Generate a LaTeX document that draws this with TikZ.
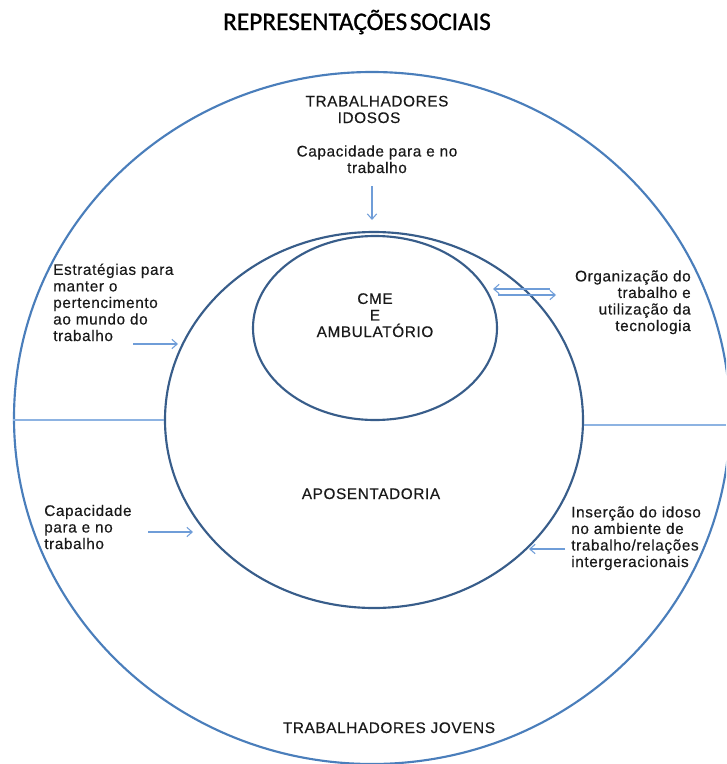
\documentclass[tikz,border=0pt]{standalone}
\usepackage{fontspec}
\setmainfont{Liberation Sans}
\newfontfamily\titlefont[FakeBold=1]{Carlito}
\newfontfamily\labfont[LetterSpace=4,FakeBold=0.4]{Liberation Sans}
\usetikzlibrary{shapes.geometric,arrows.meta}
\definecolor{outerblue}{HTML}{4A7EBB}
\definecolor{darkblue}{HTML}{385D8A}
\definecolor{arrowblue}{HTML}{6F9DD8}
\definecolor{lineblue}{HTML}{8DB3E2}
\tikzset{
  ring/.style={ellipse, draw, line width=1.6pt, inner sep=0pt},
  lab/.style={font=\labfont\fontsize{11.5}{12.4}\selectfont, inner sep=0pt, text=black!90},
  conn/.style={draw=lineblue, line width=0.8pt},
  arr/.style={draw=arrowblue, line width=0.8pt, -{Straight Barb[length=4pt,width=7pt]}}
}
\begin{document}
\begin{tikzpicture}[x=0.75pt,y=-0.75pt]
\useasboundingbox (0,0) rectangle (726,764);
\clip (0,0) rectangle (726,764);

% rings
\node[ring, draw=outerblue, minimum width=537pt, minimum height=519pt] (outer) at (372,418) {};
\node[ring, draw=darkblue, minimum width=313.5pt, minimum height=282pt] (mid) at (374,420) {};
\node[ring, draw=darkblue, minimum width=183pt, minimum height=138pt] (inner) at (375,328) {};

% dividing lines
\coordinate (rend) at (726,425);
\draw[conn] (mid.west) -- (mid.west -| outer.west);
\draw[conn] (mid.east |- rend) -- (rend);

% title
\node[font=\titlefont\fontsize{19}{22}\selectfont, inner sep=0pt, anchor=base] (title) at (357,30) {REPRESENTAÇÕES\hspace{2pt}SOCIAIS};

% texts (base anchor = baseline of the last line)
\node[lab, align=center, anchor=base] (idosos) at (377,123) {TRABALHADORES\\IDOSOS\hspace*{12pt}};
\node[lab, align=center, anchor=base] (captop) at (377,173) {Capacidade para e no\\trabalho};
\node[lab, align=left, anchor=base west] (estr) at (53,341) {Estratégias para\\manter o\\pertencimento\\ao mundo do\\trabalho};
\node[lab, align=center, anchor=base] (cme) at (375,337) {CME\\E\\AMBULATÓRIO};
\node[lab, align=right, anchor=base east] (org) at (691,331) {Organização do\\trabalho e\\utilização da\\tecnologia};
\node[lab, anchor=base] (apos) at (371,499) {APOSENTADORIA};
\node[lab, align=left, anchor=base west] (capleft) at (44,549) {Capacidade\\para e no\\trabalho};
\node[lab, align=left, anchor=base west] (ins) at (571,567) {Inserção do idoso\\no ambiente de\\trabalho/relações\\intergeracionais};
\node[lab, anchor=base] (jovens) at (389,733) {TRABALHADORES JOVENS};

% arrows
\coordinate (a1s) at (372,186); \coordinate (a1e) at (372,220);
\draw[arr] (a1s) -- (a1e);
\coordinate (a2s) at (133,344); \coordinate (a2e) at (178,344);
\draw[arr] (a2s) -- (a2e);
\coordinate (a3s) at (550,289); \coordinate (a3e) at (493,289);
\draw[arr] (a3s) -- (a3e);
\coordinate (a4s) at (498,295); \coordinate (a4e) at (556,295);
\draw[arr] (a4s) -- (a4e);
\coordinate (a5s) at (148,532); \coordinate (a5e) at (193,532);
\draw[arr] (a5s) -- (a5e);
\coordinate (a6s) at (565,549); \coordinate (a6e) at (529,549);
\draw[arr] (a6s) -- (a6e);
\end{tikzpicture}
\end{document}
